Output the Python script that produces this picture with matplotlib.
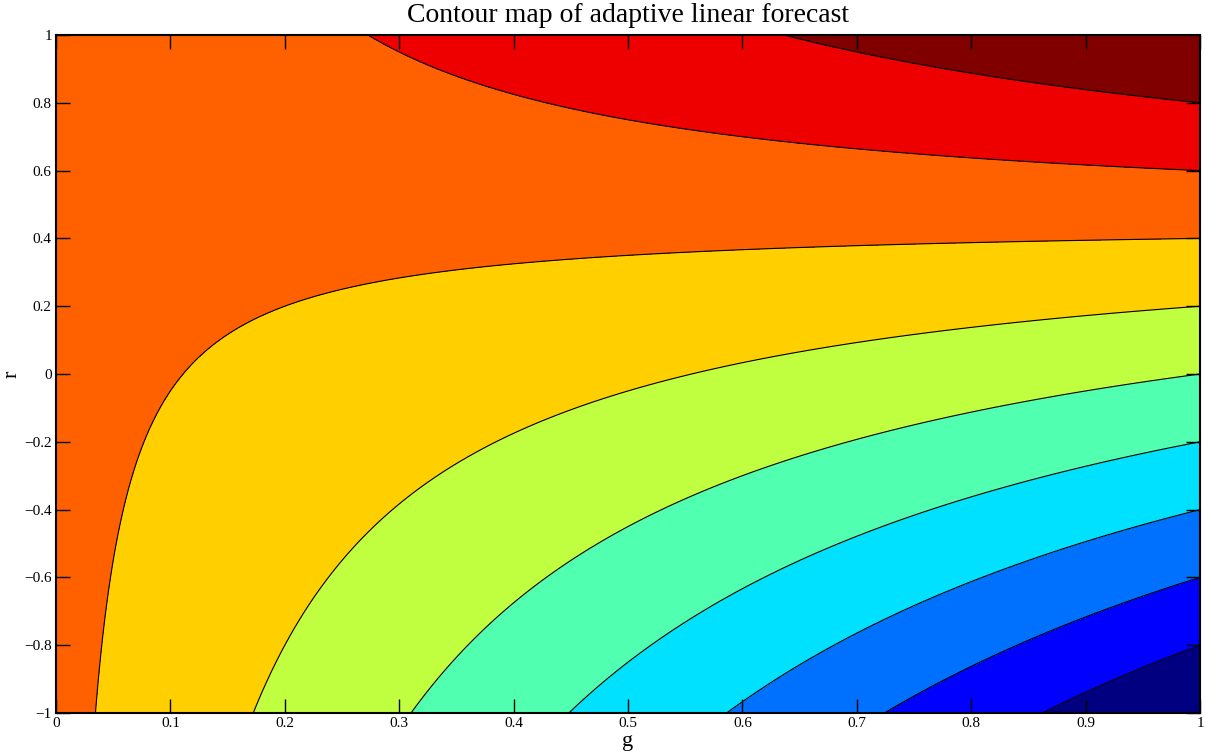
import numpy as np
import matplotlib.pyplot as plt

base = 0.45
g = np.linspace(0, 1, 401)
r = np.linspace(-1, 1, 401)
levels = [-1, -0.8, -0.6, -0.4, -0.2, 0, 0.2, 0.4, 0.6, 0.8, 1]
band_colors = ["#000080", "#0000ff", "#0070ff", "#00e0ff", "#50ffb0",
               "#bfff40", "#ffcf00", "#ff6000", "#ee0000", "#800000"]
xticks = [0, 0.1, 0.2, 0.3, 0.4, 0.5, 0.6, 0.7, 0.8, 0.9, 1]
yticks = [-1, -0.8, -0.6, -0.4, -0.2, 0, 0.2, 0.4, 0.6, 0.8, 1]

G, R = np.meshgrid(g, r)
Z = (1 - G) * base + G * R

plt.rcParams['font.family'] = ['Liberation Serif', 'DejaVu Serif']
plt.rcParams['axes.unicode_minus'] = True

fig = plt.figure(figsize=(12.05, 7.54), dpi=100)
ax = fig.add_axes([56 / 1205, 1 - 713 / 754, 1144 / 1205, 678 / 754])
ax.contourf(G, R, Z, levels=levels, colors=band_colors)
ax.contour(G, R, Z, levels=levels[1:-1], colors="black", linewidths=0.8,
           linestyles="solid")

ax.set_xlim(0, 1)
ax.set_ylim(-1, 1)
ax.set_xticks(xticks)
ax.set_xticklabels([f"{v:g}" for v in xticks])
ax.set_yticks(yticks)
ax.set_yticklabels([f"{v:g}".replace("-", "\u2212") for v in yticks])
ax.tick_params(direction="in", length=10, width=1, top=True, right=True,
               labelsize=11, pad=3)
for s in ax.spines.values():
    s.set_linewidth(1.5)

ax.set_title("Contour map of adaptive linear forecast", fontsize=20, pad=9)
ax.set_xlabel("g", fontsize=16, labelpad=1)
ax.set_ylabel("r", fontsize=16, labelpad=2)

plt.savefig("out.png", dpi=100)
